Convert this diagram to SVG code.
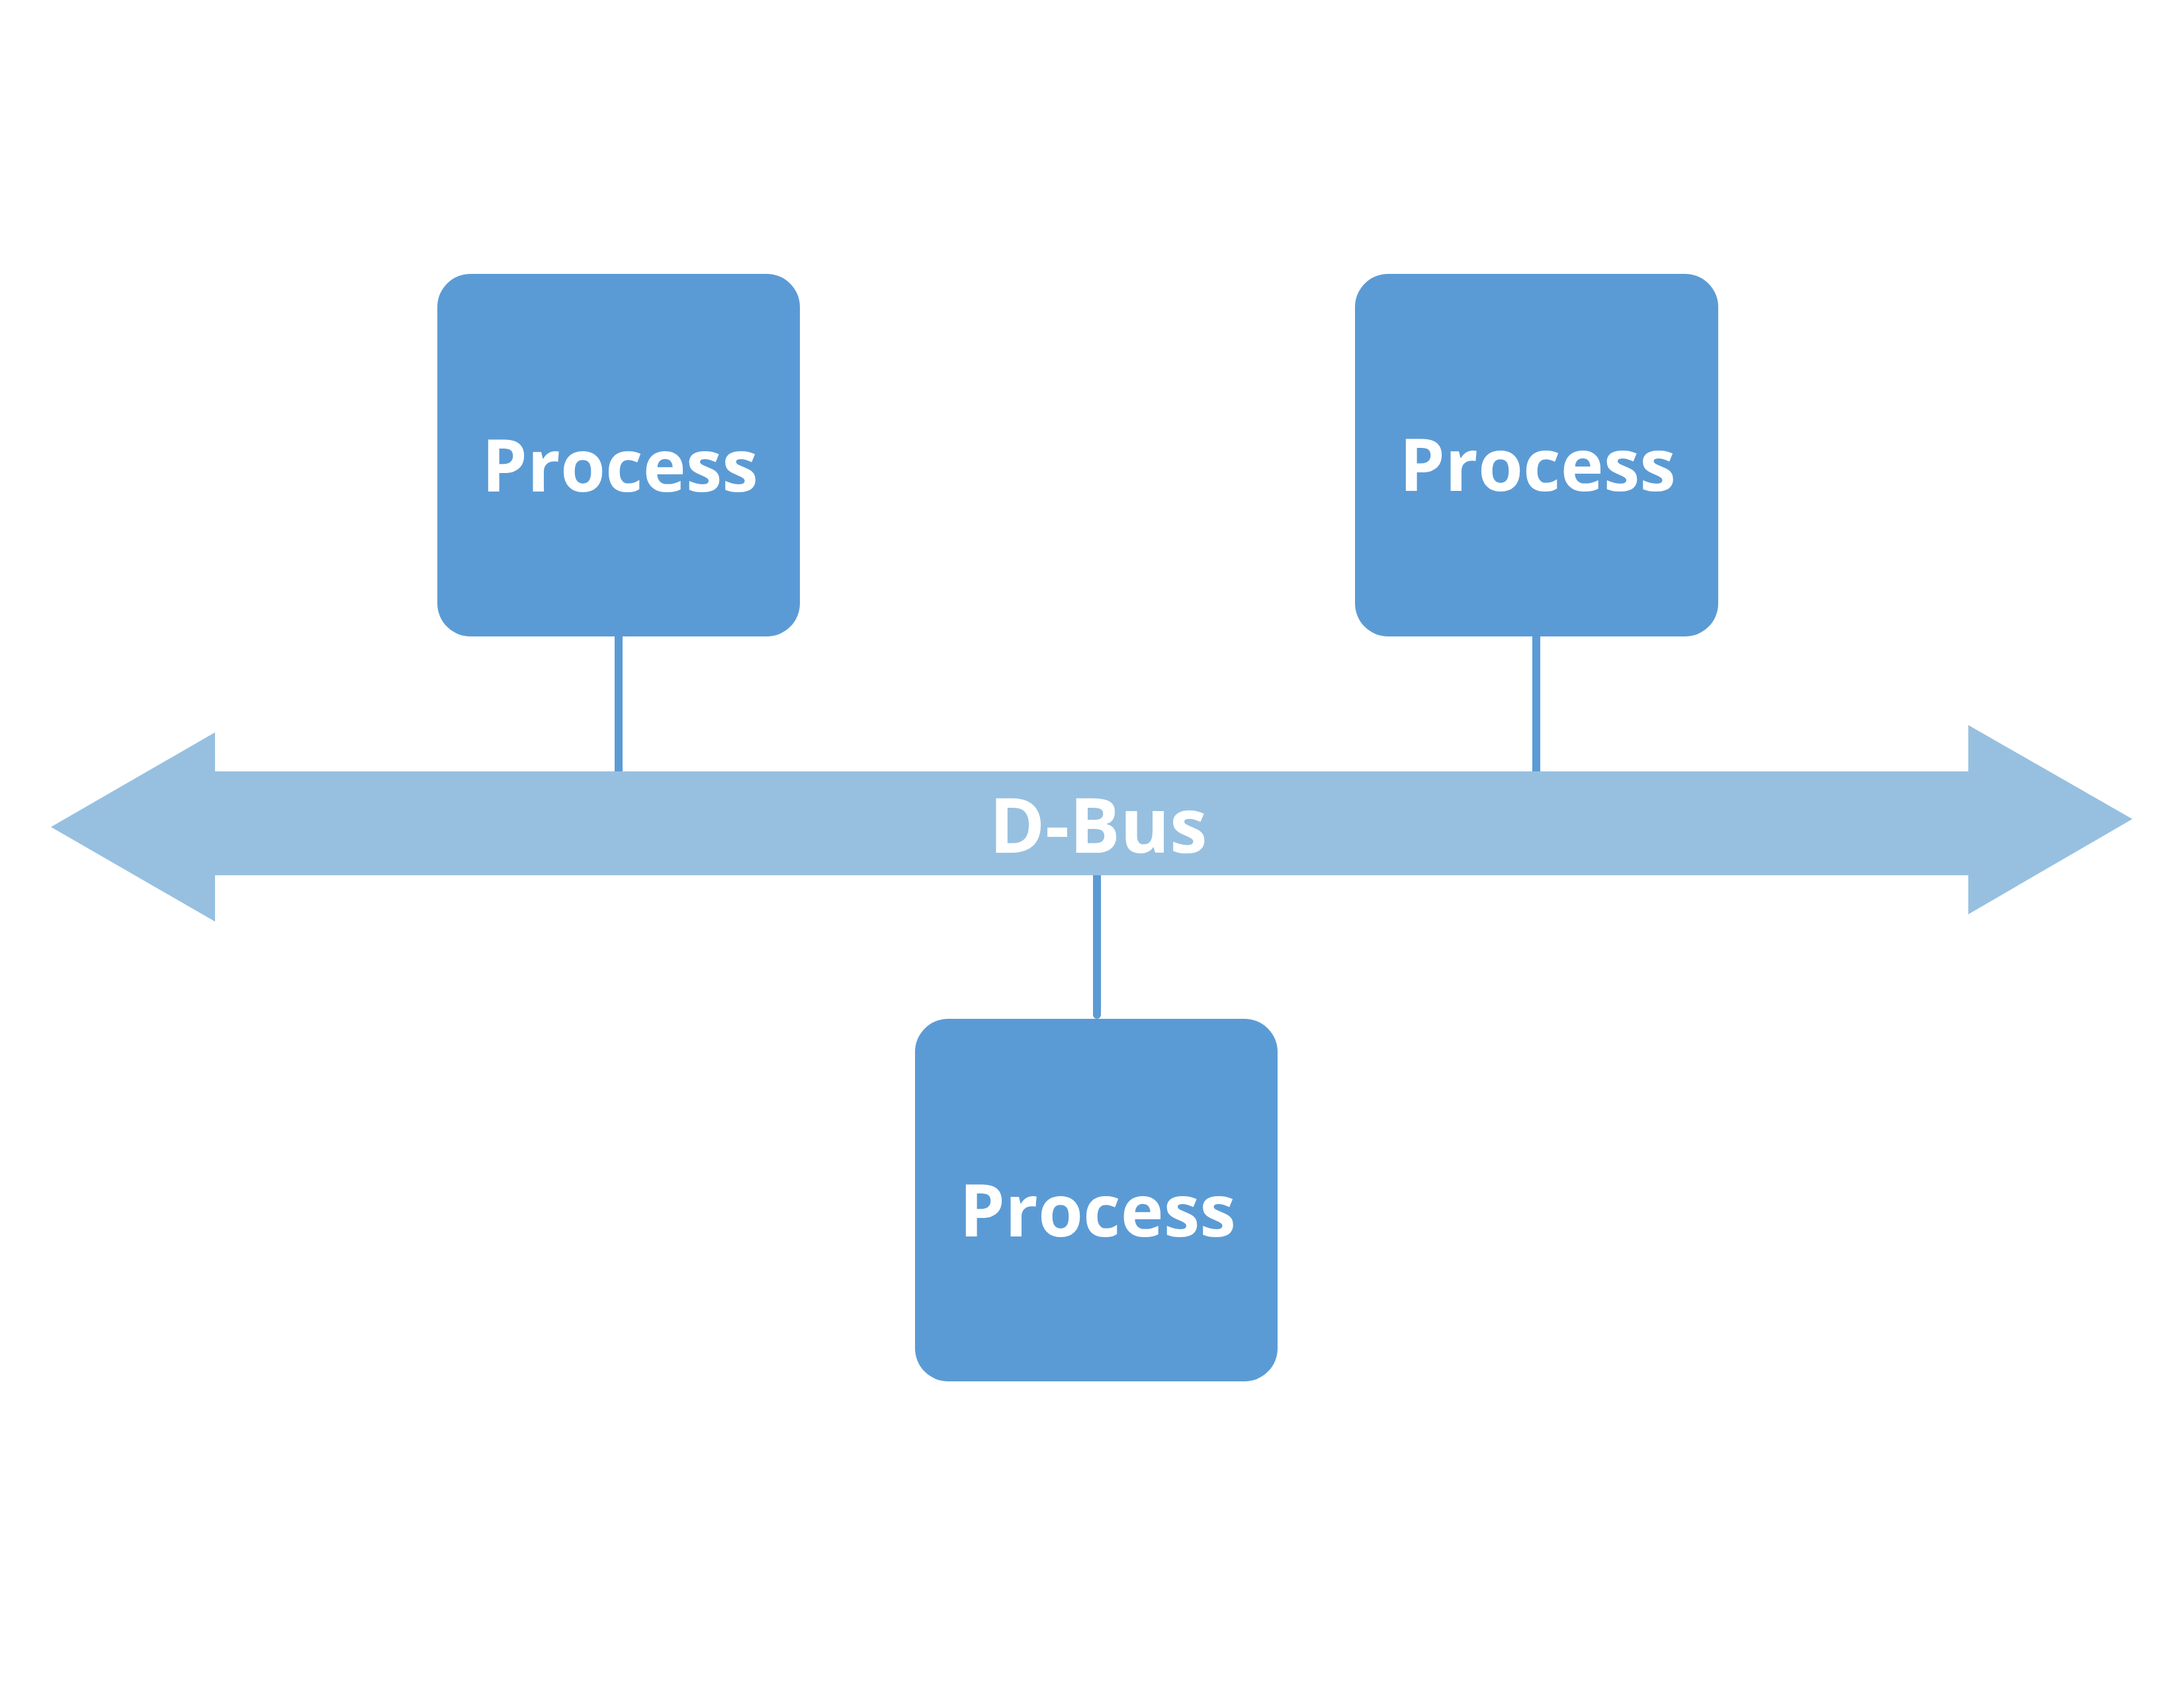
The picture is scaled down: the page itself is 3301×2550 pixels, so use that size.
<svg xmlns="http://www.w3.org/2000/svg" width="3301" height="2550" viewBox="0 0 3301 2550">
  <style>
    .box { fill: #5B9BD5; }
    .label { fill: #FFFFFF; font-family: "Open Sans", "Noto Sans", "Liberation Sans", sans-serif; font-weight: bold; font-size: 110px; text-anchor: middle; }
    .bus-label { font-size: 114px; }
    .conn { stroke: #5B9BD5; stroke-width: 12; fill: none; }
    .bus { fill: #97C0E0; }
  </style>
  <rect width="3301" height="2550" fill="#FFFFFF"/>
  <g id="connectors">
    <line class="conn" x1="935" y1="960" x2="935" y2="1168"/>
    <line class="conn" x1="2322" y1="960" x2="2322" y2="1168"/>
    <line class="conn" x1="1658" y1="1320" x2="1658" y2="1534" stroke-linecap="round"/>
  </g>
  <g id="dbus">
    <polygon class="bus" points="77,1250 325,1107 325,1166 2975,1166 2975,1096 3223,1238 2975,1382 2975,1323 325,1323 325,1393"/>
    <text class="label bus-label" x="1660" y="1289">D-Bus</text>
  </g>
  <g id="process1">
    <rect class="box" x="661" y="414" width="548" height="548" rx="50" ry="50"/>
    <text class="label" x="937" y="743">Process</text>
  </g>
  <g id="process2">
    <rect class="box" x="2048" y="414" width="549" height="548" rx="50" ry="50"/>
    <text class="label" x="2324" y="742">Process</text>
  </g>
  <g id="process3">
    <rect class="box" x="1383" y="1540" width="548" height="548" rx="50" ry="50"/>
    <text class="label" x="1659" y="1869">Process</text>
  </g>
</svg>
